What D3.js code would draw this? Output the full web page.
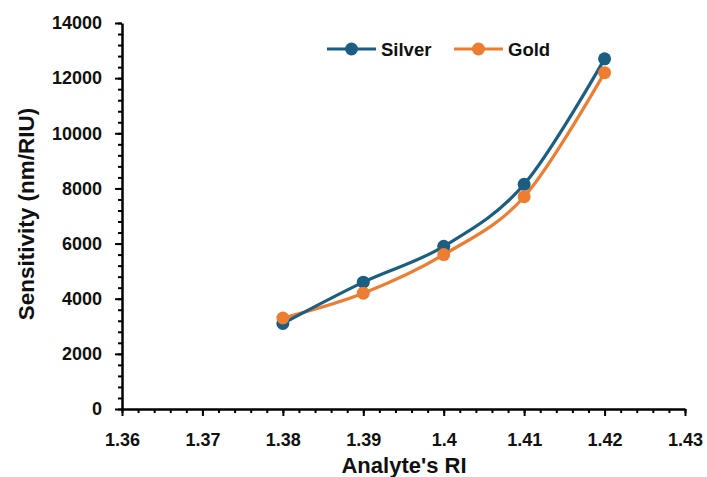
<!DOCTYPE html>
<html><head><meta charset="utf-8">
<script src="https://cdn.jsdelivr.net/npm/d3@7"></script>
<style>body{margin:0;background:#fff}svg{display:block}text{font-family:"Liberation Sans",Arial,sans-serif;font-weight:bold}</style>
</head><body><svg id="c" width="707" height="477"></svg>
<script>
const riValues = [1.38, 1.39, 1.40, 1.41, 1.42];
const silverValues = [3100, 4600, 5900, 8150, 12700];
const goldValues = [3300, 4200, 5600, 7700, 12200];
const xTicks = [1.36, 1.37, 1.38, 1.39, 1.40, 1.41, 1.42, 1.43];
const xTickLabels = ["1.36","1.37","1.38","1.39","1.4","1.41","1.42","1.43"];
const yTicks = [0, 2000, 4000, 6000, 8000, 10000, 12000, 14000];
const seriesNames = ["Silver", "Gold"];
const seriesColors = ["#1B5E82", "#ED7D31"];

const svg = d3.select("#c");
const x = d3.scaleLinear().domain([1.36, 1.43]).range([122, 685]);
const y = d3.scaleLinear().domain([0, 14000]).range([409, 23]);

// minor ticks
const xMinor = d3.range(0, 36).map(i => 1.36 + i * 0.002);
svg.append("g").attr("transform", "translate(0,409)")
  .call(d3.axisBottom(x).tickValues(xMinor).tickSize(4).tickFormat(""))
  .call(g => { g.select(".domain").remove(); g.selectAll("line").attr("stroke","#000").attr("stroke-width",2); });
const yMinor = d3.range(0, 36).map(i => i * 400);
svg.append("g").attr("transform", "translate(122,0)")
  .call(d3.axisLeft(y).tickValues(yMinor).tickSize(4).tickFormat(""))
  .call(g => { g.select(".domain").remove(); g.selectAll("line").attr("stroke","#000").attr("stroke-width",2); });

// major axes
svg.append("g").attr("transform", "translate(0,409)")
  .call(d3.axisBottom(x).tickValues(xTicks).tickSize(7).tickSizeOuter(0).tickPadding(17).tickFormat((d,i) => xTickLabels[i]))
  .call(g => {
    g.select(".domain").attr("stroke","#000").attr("stroke-width",2.5);
    g.selectAll("line").attr("stroke","#000").attr("stroke-width",2);
    g.selectAll("text").attr("font-size",18).attr("fill","#111").style("font-family","Liberation Sans, Arial, sans-serif").style("font-weight","bold");
  });
svg.append("g").attr("transform", "translate(122,0)")
  .call(d3.axisLeft(y).tickValues(yTicks).tickSize(7).tickSizeOuter(0).tickPadding(13).tickFormat(d3.format("d")))
  .call(g => {
    g.select(".domain").attr("stroke","#000").attr("stroke-width",2.5);
    g.selectAll("line").attr("stroke","#000").attr("stroke-width",2);
    g.selectAll("text").attr("font-size",18).attr("fill","#111").style("font-family","Liberation Sans, Arial, sans-serif").style("font-weight","bold");
  });

// titles
svg.append("text").attr("x", 404).attr("y", 473).attr("text-anchor","middle")
  .attr("font-size", 22).attr("fill","#111").text("Analyte's RI");
svg.append("text").attr("transform","translate(34,214) rotate(-90)").attr("text-anchor","middle")
  .attr("font-size", 22.5).attr("fill","#111").text("Sensitivity (nm/RIU)");

// lines
const series = [silverValues, goldValues];
const line = d3.line().x((d,i) => x(riValues[i])).y(d => y(d)).curve(d3.curveCardinal.tension(0));
[1,0].forEach(s => {
  svg.append("path").datum(series[s]).attr("d", line).attr("fill","none")
    .attr("stroke", seriesColors[s]).attr("stroke-width", 3.2).attr("stroke-linejoin","round");
});
[0,1].forEach(s => {
  svg.append("g").selectAll("circle").data(series[s]).join("circle")
    .attr("cx",(d,i) => x(riValues[i])).attr("cy", d => y(d)).attr("r", 6.5).attr("fill", seriesColors[s]);
});

// legend
const legendX = [327, 454];
seriesNames.forEach((n, s) => {
  const g = svg.append("g").attr("transform", `translate(${legendX[s]},49)`);
  g.append("line").attr("x1",0).attr("x2",49).attr("stroke",seriesColors[s]).attr("stroke-width",3.2);
  g.append("circle").attr("cx",24.5).attr("r",6.5).attr("fill",seriesColors[s]);
  g.append("text").attr("x",54).attr("y",6.5).attr("font-size",18.5).attr("fill","#111").text(n);
});
</script></body></html>
